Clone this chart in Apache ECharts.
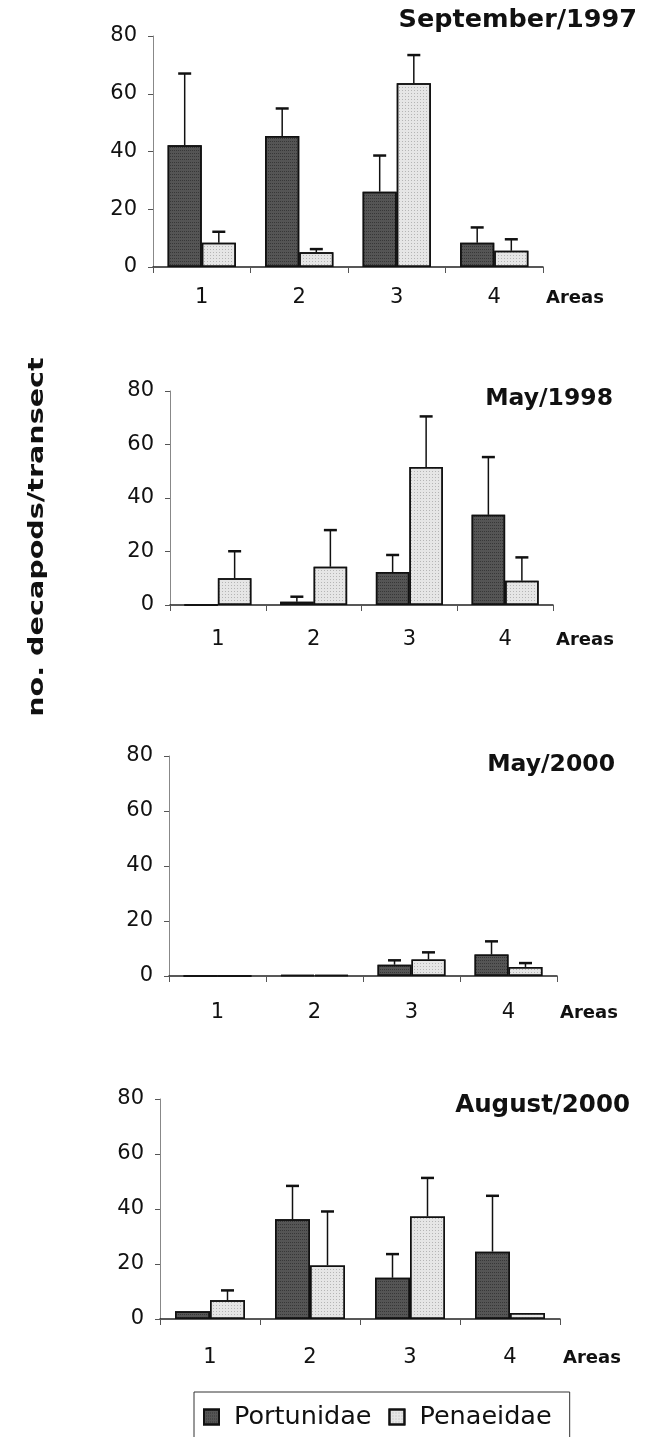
<!DOCTYPE html>
<html><head><meta charset="utf-8">
<script src="https://cdn.jsdelivr.net/npm/echarts@6/dist/echarts.min.js"></script>
<style>html,body{margin:0;padding:0;background:#fff}#c{width:647px;height:1437px}</style>
</head><body><div id="c"></div>
<script>
// ---------------- data ----------------
const areas = ['1', '2', '3', '4'];
const panelTitles = ['September/1997', 'May/1998', 'May/2000', 'August/2000'];
const yTickValues = [0, 20, 40, 60, 80];

const portSep97 = [42.2, 45.4, 26.1, 8.4];
const portSep97Err = [24.8, 9.5, 12.5, 5.3];
const penSep97 = [8.4, 5.1, 63.6, 5.6];
const penSep97Err = [3.8, 1.1, 9.8, 4.0];

const portMay98 = [0, 1.2, 12.3, 33.7];
const portMay98Err = [0, 1.9, 6.4, 21.6];
const penMay98 = [10.0, 14.3, 51.6, 9.1];
const penMay98Err = [10.1, 13.7, 18.9, 8.7];

const portMay00 = [0, 0.3, 4.1, 7.8];
const portMay00Err = [0, 0, 1.6, 4.8];
const penMay00 = [0, 0.3, 6.0, 3.3];
const penMay00Err = [0, 0, 2.6, 1.4];

const portAug00 = [2.8, 36.3, 15.0, 24.5];
const portAug00Err = [0, 12.1, 8.6, 20.3];
const penAug00 = [6.8, 19.5, 37.3, 2.2];
const penAug00Err = [3.6, 19.6, 14.0, 0];

const panels = [
  { port: portSep97, portErr: portSep97Err, pen: penSep97, penErr: penSep97Err },
  { port: portMay98, portErr: portMay98Err, pen: penMay98, penErr: penMay98Err },
  { port: portMay00, portErr: portMay00Err, pen: penMay00, penErr: penMay00Err },
  { port: portAug00, portErr: portAug00Err, pen: penAug00, penErr: penAug00Err }
];

// ---------------- layout ----------------
const layout = [
  { left: 153, top: 36,   width: 390, height: 231, titleRight: 10, titleTop: 7,    titleSize: 25.5, lm: 20 },
  { left: 170, top: 391,  width: 383, height: 214, titleRight: 34, titleTop: 387,  titleSize: 23.5, lm: 24 },
  { left: 169, top: 756,  width: 388, height: 220, titleRight: 32, titleTop: 753,  titleSize: 23.5, lm: 26 },
  { left: 160, top: 1099, width: 400, height: 220, titleRight: 17, titleTop: 1093, titleSize: 24.5, lm: 28 }
];
const GAP = 0.3;
const FONT = '"DejaVu Sans", "Liberation Sans", Arial, sans-serif';

function errRender(params, api) {
  const cat = api.value(0), v = api.value(1), e = api.value(2), k = api.value(3);
  if (!(e > 0)) return null;
  const base = api.coord([cat, v]);
  const top = api.coord([cat, v + e]);
  const catW = api.size([1, 0])[0];
  const bw = catW * (1 - GAP) / 2;
  const x = base[0] + (k === 0 ? -bw / 2 : bw / 2);
  const cap = 6.5;
  return {
    type: 'group',
    children: [
      { type: 'line', shape: { x1: x, y1: base[1], x2: x, y2: top[1] }, style: { stroke: '#111', lineWidth: 1.5 } },
      { type: 'line', shape: { x1: x - cap, y1: top[1], x2: x + cap, y2: top[1] }, style: { stroke: '#111', lineWidth: 2.5 } }
    ]
  };
}

const darkDecal = { symbol: 'rect', symbolSize: 1, dashArrayX: [1, 1], dashArrayY: [1, 2], rotation: 0, color: 'rgba(20,20,20,0.45)' };
const lightDecal = { symbol: 'rect', symbolSize: 1, dashArrayX: [1, 2], dashArrayY: [1, 2], rotation: 0, color: 'rgba(90,90,90,0.35)' };

const grid = [], xAxis = [], yAxis = [], series = [], title = [];
layout.forEach((L, i) => {
  grid.push({ left: L.left, top: L.top, width: L.width, height: L.height });
  title.push({
    text: panelTitles[i], right: L.titleRight, top: L.titleTop, padding: 0,
    textStyle: { fontFamily: FONT, fontWeight: 'bold', fontSize: L.titleSize, color: '#111' }
  });
  xAxis.push({
    type: 'category', gridIndex: i, data: areas, boundaryGap: true,
    name: 'Areas', nameLocation: 'end', nameGap: 3,
    nameTextStyle: { fontFamily: FONT, fontWeight: 'bold', fontSize: 18, color: '#111', verticalAlign: 'top', align: 'left', padding: [L.lm + 2, 0, 0, 0] },
    axisLine: { lineStyle: { color: '#222', width: 1.5 } },
    axisTick: { show: true, length: 6, lineStyle: { color: '#555' } },
    axisLabel: { margin: L.lm, fontFamily: FONT, fontSize: 21, color: '#111' },
    splitLine: { show: false }
  });
  yAxis.push({
    type: 'value', gridIndex: i, min: yTickValues[0], max: yTickValues[yTickValues.length - 1],
    interval: yTickValues[1] - yTickValues[0],
    axisLine: { show: true, lineStyle: { color: '#888', width: 1 } },
    axisTick: { show: true, length: 5, lineStyle: { color: '#555' } },
    axisLabel: { margin: 16, fontFamily: FONT, fontSize: 21, color: '#111' },
    splitLine: { show: false }
  });
  const P = panels[i];
  series.push({
    name: 'Portunidae', type: 'bar', xAxisIndex: i, yAxisIndex: i, data: P.port,
    barGap: '0%', barCategoryGap: (GAP * 100) + '%',
    itemStyle: { color: '#555', borderColor: '#111', borderWidth: 1.5, decal: darkDecal },
    emphasis: { disabled: true }
  });
  series.push({
    name: 'Penaeidae', type: 'bar', xAxisIndex: i, yAxisIndex: i, data: P.pen,
    barGap: '0%', barCategoryGap: (GAP * 100) + '%',
    itemStyle: { color: '#e6e6e6', borderColor: '#111', borderWidth: 1.5, decal: lightDecal },
    emphasis: { disabled: true }
  });
  const errData = [];
  areas.forEach((a, j) => {
    errData.push([j, P.port[j], P.portErr[j], 0]);
    errData.push([j, P.pen[j], P.penErr[j], 1]);
  });
  series.push({
    type: 'custom', xAxisIndex: i, yAxisIndex: i, data: errData,
    renderItem: errRender, silent: true, z: 5,
    encode: { x: 0, y: 1 }
  });
});

const chart = echarts.init(document.getElementById('c'), null, { renderer: 'canvas' });
chart.setOption({
  animation: false,
  backgroundColor: '#fff',
  title: title,
  grid: grid,
  xAxis: xAxis,
  yAxis: yAxis,
  series: series,
  legend: {
    data: ['Portunidae', 'Penaeidae'],
    left: 194, top: 1392, orient: 'horizontal',
    borderColor: '#333', borderWidth: 1,
    padding: [12, 18, 40, 9],
    itemWidth: 15, itemHeight: 15, itemGap: 17,
    icon: 'rect',
    textStyle: { fontFamily: FONT, fontSize: 25.5, color: '#111', padding: [0, 0, 0, 10] },
    selectedMode: false
  },
  graphic: [{
    type: 'text', x: 37, y: 537, rotation: Math.PI / 2,
    style: { text: 'no. decapods/transect', fontFamily: FONT, fontWeight: 'bold', fontSize: 22, fill: '#111', align: 'center', verticalAlign: 'middle' },
    scaleX: 1.3
  }]
});
</script>
</body></html>
